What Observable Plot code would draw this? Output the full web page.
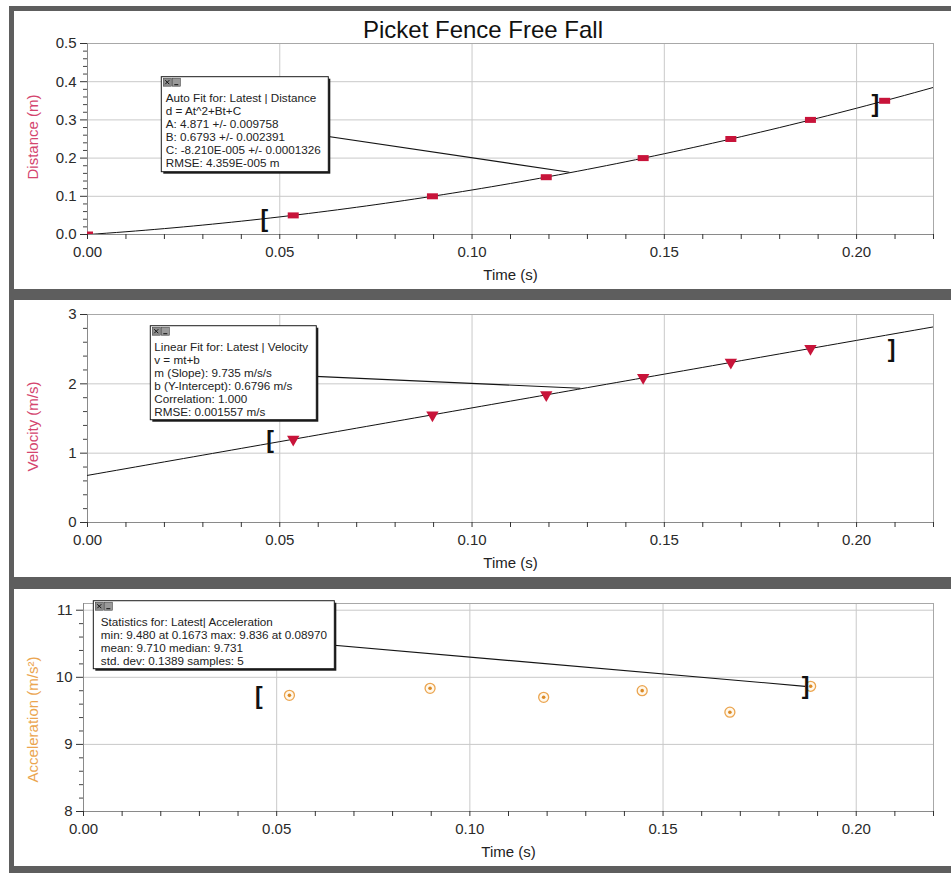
<!DOCTYPE html>
<html>
<head>
<meta charset="utf-8">
<script src="https://cdn.jsdelivr.net/npm/d3@7"></script>
<script src="https://cdn.jsdelivr.net/npm/@observablehq/plot@0.6"></script>
<style>
  html, body { margin: 0; padding: 0; background: #fff; }
  #chart { position: relative; width: 951px; height: 873px; background: #fff; overflow: hidden;
           font-family: "Liberation Sans", Arial, sans-serif; }
  .panel { position: absolute; left: 0; }
  .bar { position: absolute; background: #5e5e5e; }
  #title { position: absolute; top: 18px; left: 483px; transform: translateX(-50%);
           font-size: 24px; line-height: 24px; color: #111; white-space: nowrap; }
</style>
</head>
<body>
<div id="chart"></div>
<script>
// ---------------- data ----------------
const chartTitle = "Picket Fence Free Fall";

const distanceTime = [0, 0.0535, 0.0897, 0.1193, 0.1445, 0.1673, 0.1880, 0.2073];
const distance     = [0, 0.05, 0.10, 0.15, 0.20, 0.25, 0.30, 0.35];

const velocityTime = [0.0535, 0.0897, 0.1193, 0.1445, 0.1673, 0.1880];
const velocity     = [1.20, 1.55, 1.84, 2.09, 2.31, 2.51];

const accelTime    = [0.0533, 0.0897, 0.1191, 0.1446, 0.1673, 0.1882];
const acceleration = [9.731, 9.836, 9.702, 9.801, 9.480, 9.866];

// fit coefficients shown in the chart
const distanceFit = [4.871, 0.6793, -8.210e-5];   // d = A t^2 + B t + C
const velocityFit = [9.735, 0.6796];              // v = m t + b

// fit / statistics range brackets: [time, value]
const distanceBrackets = [[0.0460, 0.0393], [0.2049, 0.3403]];
const velocityBrackets = [[0.0475, 1.187], [0.2091, 2.492]];
const accelBrackets    = [[0.0454, 9.718], [0.1869, 9.858]];

// ticks
const timeDomain      = [0, 0.22];
const timeTicks       = [0, 0.05, 0.10, 0.15, 0.20];
const timeMinorTicks  = [0.01, 0.02, 0.03, 0.04, 0.06, 0.07, 0.08, 0.09, 0.11, 0.12, 0.13, 0.14,
                         0.16, 0.17, 0.18, 0.19, 0.21, 0.22];
const distanceTicks   = [0, 0.1, 0.2, 0.3, 0.4, 0.5];
const distanceMinor   = [0.02, 0.04, 0.06, 0.08, 0.12, 0.14, 0.16, 0.18, 0.22, 0.24, 0.26, 0.28,
                         0.32, 0.34, 0.36, 0.38, 0.42, 0.44, 0.46, 0.48];
const velocityTicks   = [0, 1, 2, 3];
const velocityMinor   = [0.2, 0.4, 0.6, 0.8, 1.2, 1.4, 1.6, 1.8, 2.2, 2.4, 2.6, 2.8];
const accelTicks      = [8, 9, 10, 11];
const accelMinor      = [8.2, 8.4, 8.6, 8.8, 9.2, 9.4, 9.6, 9.8, 10.2, 10.4, 10.6, 10.8];

// annotation texts
const distanceNote = ["Auto Fit for: Latest | Distance", "d = At^2+Bt+C", "A: 4.871 +/- 0.009758",
                      "B: 0.6793 +/- 0.002391", "C: -8.210E-005 +/- 0.0001326", "RMSE: 4.359E-005 m"];
const velocityNote = ["Linear Fit for: Latest | Velocity", "v = mt+b", "m (Slope): 9.735 m/s/s",
                      "b (Y-Intercept): 0.6796 m/s", "Correlation: 1.000", "RMSE: 0.001557 m/s"];
const accelNote    = ["Statistics for: Latest| Acceleration", "min: 9.480 at 0.1673 max: 9.836 at 0.08970",
                      "mean: 9.710 median: 9.731", "std. dev: 0.1389 samples: 5"];

// ---------------- tables ----------------
const distanceData = distanceTime.map((t, i) => ({t, v: distance[i]}));
const velocityData = velocityTime.map((t, i) => ({t, v: velocity[i]}));
const accelData    = accelTime.map((t, i) => ({t, v: acceleration[i]}));
const fitTimes     = d3.range(timeDomain[0], timeDomain[1] + 1e-9, 0.0025);
const distanceCurve = fitTimes.map(t => ({t, v: distanceFit[0] * t * t + distanceFit[1] * t + distanceFit[2]}));
const velocityCurve = fitTimes.map(t => ({t, v: velocityFit[0] * t + velocityFit[1]}));
const fitD = t => distanceFit[0] * t * t + distanceFit[1] * t + distanceFit[2];
const fitV = t => velocityFit[0] * t + velocityFit[1];
const midD = (distanceBrackets[0][0] + distanceBrackets[1][0]) / 2;
const midV = (velocityBrackets[0][0] + velocityBrackets[1][0]) / 2;

// ---------------- styles ----------------
const FONT = "'Liberation Sans', Arial, sans-serif";
const RED = "#c8143a";
const LABEL_RED = "#d4456e";
const ORANGE = "#eba550";

const rectSymbol = { draw(ctx) { ctx.rect(-5.5, -3, 11, 6); } };
const triangleDown = {
  draw(ctx, size) {
    const a = Math.sqrt(size / (Math.sqrt(3) / 4)), h = a * Math.sqrt(3) / 2;
    ctx.moveTo(-a / 2, -h / 3); ctx.lineTo(a / 2, -h / 3); ctx.lineTo(0, 2 * h / 3); ctx.closePath();
  }
};

// note box drawn at a data anchor, with leader from box centre to a data target
function noteBox({at, width, height, inset, lines, target}) {
  return (index, scales) => {
    const x0 = scales.x(at[0]), y0 = scales.y(at[1]);
    const tx = scales.x(target[0]), ty = scales.y(target[1]);
    const g = d3.create("svg:g");
    g.append("line").attr("x1", x0 + width / 2).attr("y1", y0 + height / 2)
      .attr("x2", tx).attr("y2", ty).attr("stroke", "#151515").attr("stroke-width", 1.1);
    g.append("rect").attr("x", x0 + 2).attr("y", y0 + 2).attr("width", width).attr("height", height)
      .attr("fill", "#1a1a1a");
    g.append("rect").attr("x", x0).attr("y", y0).attr("width", width).attr("height", height)
      .attr("fill", "#fff").attr("stroke", "#1a1a1a").attr("stroke-width", 1);
    // title-bar icons
    const i1 = g.append("g").attr("transform", `translate(${x0 + 2},${y0 + 1.5})`);
    i1.append("rect").attr("width", 8).attr("height", 8).attr("fill", "#8c8c8c").attr("stroke", "#444").attr("stroke-width", 0.6);
    i1.append("path").attr("d", "M2,2L6,6M6,2L2,6").attr("stroke", "#111").attr("stroke-width", 1);
    const i2 = g.append("g").attr("transform", `translate(${x0 + 11},${y0 + 1.5})`);
    i2.append("rect").attr("width", 8).attr("height", 8).attr("fill", "#9a9a9a").attr("stroke", "#444").attr("stroke-width", 0.6);
    i2.append("path").attr("d", "M2,6.5L6,6.5").attr("stroke", "#111").attr("stroke-width", 1);
    const text = g.append("text").attr("font-size", 11.7).attr("fill", "#222")
      .attr("font-family", FONT).attr("text-anchor", "start");
    lines.forEach((s, i) => text.append("tspan").attr("x", x0 + inset).attr("y", y0 + 25 + 13 * i).text(s));
    return g.node();
  };
}

function panel({top, height, marginTop, marginLeft, yDomain, yTicks, yMinor, yFormat, yLabel, yLabelColor, yLabelDy, marks}) {
  const svg = Plot.plot({
    width: 951, height,
    marginTop, marginBottom: 55, marginLeft, marginRight: 18,
    style: {fontFamily: FONT, fontSize: "15px", background: "transparent", color: "#2a2a2a", overflow: "visible"},
    x: {domain: timeDomain, label: null},
    y: {domain: yDomain, label: null},
    marks: [
      Plot.gridX({ticks: timeTicks, stroke: "#c9c9c9", strokeOpacity: 1}),
      Plot.gridY({ticks: yTicks, stroke: "#c9c9c9", strokeOpacity: 1}),
      Plot.frame({stroke: "#a8a8a8"}),
      Plot.ruleY([yDomain[0]], {stroke: "#8a8a8a"}),
      Plot.ruleX([timeDomain[0]], {stroke: "#8a8a8a"}),
      Plot.axisX({ticks: timeTicks, tickSize: 5, tickPadding: 7, tickFormat: d3.format(".2f"),
                  fontSize: 15, label: null, stroke: "#333", fill: "#2a2a2a"}),
      Plot.axisX({ticks: timeMinorTicks, tickSize: 5, tickFormat: () => "", label: null, stroke: "#333"}),
      Plot.axisY({ticks: yTicks, tickSize: 7, tickPadding: 4, tickFormat: yFormat,
                  fontSize: 15, label: null, stroke: "#333", fill: "#2a2a2a"}),
      Plot.axisY({ticks: yMinor, tickSize: 4, tickFormat: () => "", label: null, stroke: "#444"}),
      Plot.text([yLabel], {frameAnchor: "left", textAnchor: "middle", lineAnchor: "middle",
                           rotate: -90, dx: -(marginLeft - 32.5), dy: yLabelDy, fill: yLabelColor, fontSize: 15}),
      Plot.text(["Time (s)"], {frameAnchor: "bottom", textAnchor: "middle", lineAnchor: "middle",
                               dy: 41, fill: "#222", fontSize: 15}),
      ...marks
    ]
  });
  const wrap = document.createElement("div");
  wrap.className = "panel";
  wrap.style.top = top + "px";
  wrap.appendChild(svg);
  return wrap;
}

const bracketMarks = (b) => [
  Plot.text([b[0]], {x: d => d[0], y: d => d[1], text: () => "[", fontWeight: "bold", fontSize: 23,
                     fill: "#111", textAnchor: "middle", lineAnchor: "middle"}),
  Plot.text([b[1]], {x: d => d[0], y: d => d[1], text: () => "]", fontWeight: "bold", fontSize: 23,
                     fill: "#111", textAnchor: "middle", lineAnchor: "middle"})
];

const chart = document.getElementById("chart");

// Panel 1: distance
chart.appendChild(panel({
  top: 11, height: 278, marginTop: 32, marginLeft: 87,
  yDomain: [0, 0.5], yTicks: distanceTicks, yMinor: distanceMinor, yFormat: d3.format(".1f"),
  yLabel: "Distance (m)", yLabelColor: LABEL_RED, yLabelDy: -2,
  marks: [
    Plot.line(distanceCurve, {x: "t", y: "v", stroke: "#111", strokeWidth: 1, clip: true}),
    Plot.dot(distanceData, {x: "t", y: "v", symbol: rectSymbol, fill: RED, r: 4, clip: true}),
    ...bracketMarks(distanceBrackets),
    noteBox({at: [0.01932, 0.4118], width: 167, height: 95, inset: 4.5, lines: distanceNote,
             target: [midD, fitD(midD)]})
  ]
}));

// Panel 2: velocity
chart.appendChild(panel({
  top: 300, height: 277, marginTop: 14, marginLeft: 87,
  yDomain: [0, 3], yTicks: velocityTicks, yMinor: velocityMinor, yFormat: d3.format("d"),
  yLabel: "Velocity (m/s)", yLabelColor: LABEL_RED, yLabelDy: 8,
  marks: [
    Plot.line(velocityCurve, {x: "t", y: "v", stroke: "#111", strokeWidth: 1, clip: true}),
    Plot.dot(velocityData, {x: "t", y: "v", symbol: triangleDown, fill: RED, r: 4.6}),
    ...bracketMarks(velocityBrackets),
    noteBox({at: [0.01646, 2.831], width: 166, height: 94, inset: 4, lines: velocityNote,
             target: [midV, fitV(midV)]})
  ]
}));

// Panel 3: acceleration
chart.appendChild(panel({
  top: 589, height: 277, marginTop: 14, marginLeft: 83,
  yDomain: [8, 11.1], yTicks: accelTicks, yMinor: accelMinor, yFormat: d3.format("d"),
  yLabel: "Acceleration (m/s²)", yLabelColor: ORANGE, yLabelDy: 12,
  marks: [
    Plot.dot(accelData, {x: "t", y: "v", r: 5, stroke: ORANGE, fill: "#fff8ec", strokeWidth: 1.3}),
    Plot.dot(accelData, {x: "t", y: "v", r: 1.8, fill: "#dc8a26"}),
    ...bracketMarks(accelBrackets),
    noteBox({at: [0.00267, 11.134], width: 241, height: 68, inset: 7.5, lines: accelNote,
             target: accelBrackets[1]})
  ]
}));

// title
const title = document.createElement("div");
title.id = "title";
title.textContent = chartTitle;
chart.appendChild(title);

// window frame bars
[[9, 6, 942, 5], [9, 6, 5, 867], [9, 289, 942, 11], [9, 577, 942, 12], [9, 866, 942, 7]].forEach(([l, t, w, h]) => {
  const b = document.createElement("div");
  b.className = "bar";
  Object.assign(b.style, {left: l + "px", top: t + "px", width: w + "px", height: h + "px"});
  chart.appendChild(b);
});
</script>
</body>
</html>
